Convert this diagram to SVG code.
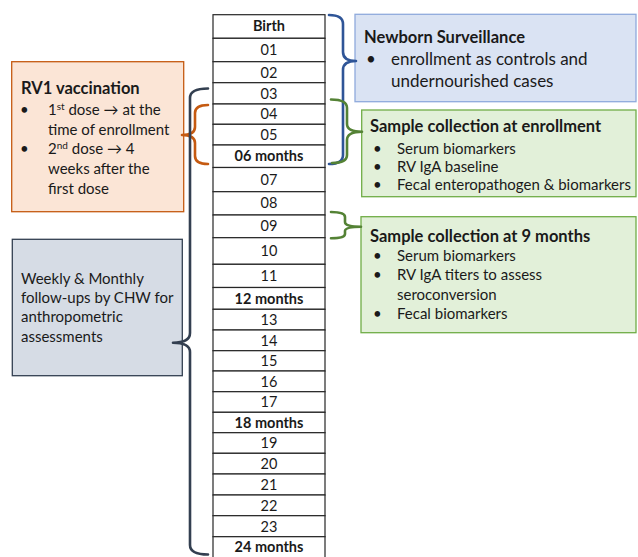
<svg xmlns="http://www.w3.org/2000/svg" width="638" height="557" viewBox="0 0 638 557">
<style>
text{font-family:Lato,"Open Sans","Liberation Sans",sans-serif;fill:#1a1a1a}
.t{font-size:14.5px;text-anchor:middle}
.b{font-weight:bold}
.h{font-size:16.5px;font-weight:bold}
.p{font-size:15px}
.p2{font-size:17px}
.row{fill:#fff;stroke:#262626;stroke-width:1.2}
.br{fill:none;stroke-width:2.6;stroke-linecap:round;stroke-linejoin:round}
</style>
<rect width="638" height="557" fill="#fff"/>
<g id="timeline">
<rect class="row" x="213" y="14.7" width="112" height="23.6"/>
<rect class="row" x="213" y="38.3" width="112" height="23.4"/>
<rect class="row" x="213" y="61.7" width="112" height="21"/>
<rect class="row" x="213" y="82.7" width="112" height="21.3"/>
<rect class="row" x="213" y="104" width="112" height="20.3"/>
<rect class="row" x="213" y="124.3" width="112" height="20.7"/>
<rect class="row" x="213" y="145" width="112" height="22.5"/>
<rect class="row" x="213" y="167.5" width="112" height="24.2"/>
<rect class="row" x="213" y="191.7" width="112" height="23.3"/>
<rect class="row" x="213" y="215" width="112" height="22.7"/>
<rect class="row" x="213" y="237.7" width="112" height="26.6"/>
<rect class="row" x="213" y="264.3" width="112" height="23.2"/>
<rect class="row" x="213" y="287.5" width="112" height="21.8"/>
<rect class="row" x="213" y="309.3" width="112" height="20.7"/>
<rect class="row" x="213" y="330" width="112" height="20.7"/>
<rect class="row" x="213" y="350.7" width="112" height="20.3"/>
<rect class="row" x="213" y="371" width="112" height="20.7"/>
<rect class="row" x="213" y="391.7" width="112" height="20.6"/>
<rect class="row" x="213" y="412.3" width="112" height="20.4"/>
<rect class="row" x="213" y="432.7" width="112" height="20.6"/>
<rect class="row" x="213" y="453.3" width="112" height="20.7"/>
<rect class="row" x="213" y="474" width="112" height="21"/>
<rect class="row" x="213" y="495" width="112" height="20.7"/>
<rect class="row" x="213" y="515.7" width="112" height="21"/>
<rect class="row" x="213" y="536.7" width="112" height="21"/>
<text class="t b" x="269" y="31">Birth</text>
<text class="t" x="269" y="55">01</text>
<text class="t" x="269" y="77.5">02</text>
<text class="t" x="269" y="98.5">03</text>
<text class="t" x="269" y="119">04</text>
<text class="t" x="269" y="140">05</text>
<text class="t b" x="269" y="161">06 months</text>
<text class="t" x="269" y="184.5">07</text>
<text class="t" x="269" y="208">08</text>
<text class="t" x="269" y="231">09</text>
<text class="t" x="269" y="256">10</text>
<text class="t" x="269" y="281">11</text>
<text class="t b" x="269" y="303.5">12 months</text>
<text class="t" x="269" y="325">13</text>
<text class="t" x="269" y="345.5">14</text>
<text class="t" x="269" y="366">15</text>
<text class="t" x="269" y="386.5">16</text>
<text class="t" x="269" y="407">17</text>
<text class="t b" x="269" y="427.5">18 months</text>
<text class="t" x="269" y="448">19</text>
<text class="t" x="269" y="469">20</text>
<text class="t" x="269" y="490">21</text>
<text class="t" x="269" y="510.5">22</text>
<text class="t" x="269" y="531.5">23</text>
<text class="t b" x="269" y="552">24 months</text>
</g>
<g id="rv1">
<rect x="11.7" y="61.7" width="172" height="150" fill="#fbe5d6" stroke="#c55a11" stroke-width="1.3"/>
<text class="h" x="21" y="94">RV1 vaccination</text>
<text class="p" x="20" y="115">•</text>
<text class="p" x="48" y="115">1<tspan font-size="10" dy="-5">st</tspan><tspan dy="5"> dose → at the</tspan></text>
<text class="p" x="48" y="134.5">time of enrollment</text>
<text class="p" x="20" y="154">•</text>
<text class="p" x="48" y="154">2<tspan font-size="10" dy="-5">nd</tspan><tspan dy="5"> dose → 4</tspan></text>
<text class="p" x="48" y="174">weeks after the</text>
<text class="p" x="48" y="193.5">first dose</text>
</g>
<g id="followup">
<rect x="12.3" y="239.3" width="170" height="136.4" fill="#d6dce5" stroke="#333f50" stroke-width="1.3"/>
<text class="p" x="21" y="283.5">Weekly &amp; Monthly</text>
<text class="p" x="21" y="303">follow-ups by CHW for</text>
<text class="p" x="21" y="322">anthropometric</text>
<text class="p" x="21" y="341.5">assessments</text>
</g>
<g id="newborn">
<rect x="355" y="14.3" width="281" height="87.4" fill="#dae3f3" stroke="#8faadc" stroke-width="1.3"/>
<text class="h" x="364" y="43">Newborn Surveillance</text>
<text class="p2" x="366" y="64.5">•</text>
<text class="p2" x="391" y="64.5">enrollment as controls and</text>
<text class="p2" x="391" y="87">undernourished cases</text>
</g>
<g id="enrollment">
<rect x="361.7" y="110" width="274.3" height="86.7" fill="#e2f0d9" stroke="#70ad47" stroke-width="1.3"/>
<text class="h" x="370" y="132">Sample collection at enrollment</text>
<text class="p" x="373" y="154">•</text>
<text class="p" x="397" y="154">Serum biomarkers</text>
<text class="p" x="373" y="171.5">•</text>
<text class="p" x="397" y="171.5">RV IgA baseline</text>
<text class="p" x="373" y="189.5">•</text>
<text class="p" x="397" y="189.5">Fecal enteropathogen &amp; biomarkers</text>
</g>
<g id="ninemonths">
<rect x="361" y="216.7" width="275" height="116" fill="#e2f0d9" stroke="#70ad47" stroke-width="1.3"/>
<text class="h" x="370" y="242">Sample collection at 9 months</text>
<text class="p" x="373" y="260.5">•</text>
<text class="p" x="397" y="260.5">Serum biomarkers</text>
<text class="p" x="373" y="280">•</text>
<text class="p" x="397" y="280">RV IgA titers to assess</text>
<text class="p" x="397" y="299.5">seroconversion</text>
<text class="p" x="373" y="318.5">•</text>
<text class="p" x="397" y="318.5">Fecal biomarkers</text>
</g>
<g id="connectors">
<path class="br" stroke="#2f5597" d="M329,15 Q343,15 343,24 L343,52 Q343,61 356,61 Q343,61 343,70 L343,155 Q343,164 329,164"/>
<path class="br" stroke="#548235" d="M331,99.5 Q347,99.5 347,108 L347,124 Q347,131.7 362,131.7 Q347,131.7 347,140 L347,155 Q347,163 332,163"/>
<path class="br" stroke="#548235" d="M331,212 Q345,212 345,217 L345,222 Q345,226.7 361,226.7 Q345,226.7 345,231 L345,234 Q345,238.3 331,238.3"/>
<path class="br" stroke="#c55a11" d="M208,105 Q195,105 195,113 L195,127 Q195,135 182,135 Q195,135 195,143 L195,156 Q195,164 208,164"/>
<path class="br" stroke="#333f50" d="M208,88.5 Q190,88.5 190,98 L190,333 Q190,342.7 173,342.7 Q190,342.7 190,352 L190,545 Q190,554.5 208,554.5"/>
</g>
</svg>
